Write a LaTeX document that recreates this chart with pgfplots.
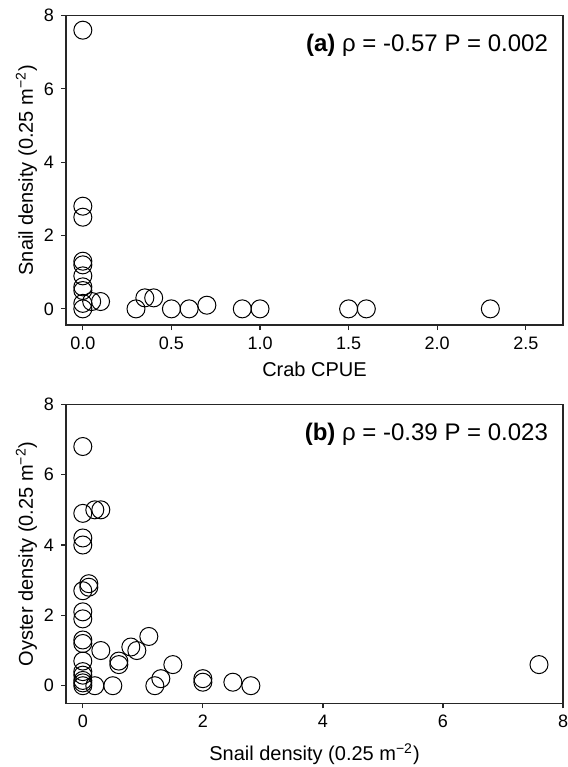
\documentclass[border=0pt]{standalone}
\usepackage{fontspec}
\setmainfont{Liberation Sans}
\usepackage{pgfplots}
\pgfplotsset{compat=1.18}

% 1 px of the reference = 0.5pt here
\pgfplotsset{
  panel/.style={
    scale only axis, width=248.5pt,
    axis line style={black!85, line width=0.7pt},
    tick style={black!85, line width=0.6pt},
    tick align=outside, major tick length=2.5pt,
    xtick pos=bottom, ytick pos=left,
    ymax=8, ytick={0,2,4,6,8},
    tick label style={font=\fontsize{9}{10}\selectfont},
    /pgf/number format/assume math mode=true,
    label style={font=\fontsize{10.5}{12}\selectfont},
    every axis y label/.style={at={(axis description cs:-0.0664,0.5)}, anchor=base, rotate=90},
  },
  circ/.style={only marks, mark=o, mark size=4.5pt, mark options={line width=0.5pt, black}},
}

\begin{document}
\begin{tikzpicture}
\path[use as bounding box] (-33pt,7.75pt) rectangle (251pt,-375.75pt);

\begin{axis}[panel, at={(0,0)}, anchor=north west, height=154.75pt,
    xmin=-0.095, xmax=2.71, ymin=-0.44,
    xtick={0,0.5,1,1.5,2,2.5}, xticklabels={0.0,0.5,1.0,1.5,2.0,2.5},
    xlabel={Crab CPUE}, ylabel={Snail density (0.25 m\textsuperscript{−2})},
    every axis x label/.style={at={(axis description cs:0.5,-0.168)}, anchor=base},
]
\addplot[circ] coordinates {
  (0,7.6) (0,2.8) (0,2.5) (0,1.3) (0,1.2) (0,0.9) (0,0.6) (0,0.5) (0,0.15) (0,0)
  (0.05,0.2) (0.1,0.2) (0.3,0) (0.35,0.3) (0.4,0.3) (0.5,0) (0.6,0) (0.7,0.1)
  (0.9,0) (1.0,0) (1.5,0) (1.6,0) (2.3,0)
};
\node[anchor=base east, font=\fontsize{12}{14}\selectfont]
  at ([xshift=-4pt,yshift=-18pt]rel axis cs:1,1) {\textbf{(a)} ρ = -0.57 P = 0.002};
\end{axis}

\begin{axis}[panel, at={(0,-194.4pt)}, anchor=north west, height=149.5pt,
    xmin=-0.28, xmax=8, ymin=-0.5,
    xtick={0,2,4,6,8},
    xlabel={Snail density (0.25 m\textsuperscript{−2})}, ylabel={Oyster density (0.25 m\textsuperscript{−2})},
    every axis x label/.style={at={(axis description cs:0.5,-0.192)}, anchor=base},
]
\addplot[circ] coordinates {
  (0,6.8) (0,4.9) (0.2,5.0) (0.3,5.0) (0,4.2) (0,4.0) (0.1,2.9) (0.1,2.8) (0,2.7)
  (0,2.1) (0,1.9) (0,1.3) (0,1.2) (0.3,1.0) (0,0.7) (0,0.4) (0,0.3) (0,0.15)
  (0,0.08) (0,0) (0.2,0) (0.5,0) (0.6,0.7) (0.6,0.6) (0.8,1.1) (0.9,1.0) (1.1,1.4)
  (1.2,0) (1.3,0.2) (1.5,0.6) (2.0,0.2) (2.0,0.1) (2.5,0.1) (2.8,0) (7.6,0.6)
};
\node[anchor=base east, font=\fontsize{12}{14}\selectfont]
  at ([xshift=-4pt,yshift=-18pt]rel axis cs:1,1) {\textbf{(b)} ρ = -0.39 P = 0.023};
\end{axis}
\end{tikzpicture}
\end{document}
